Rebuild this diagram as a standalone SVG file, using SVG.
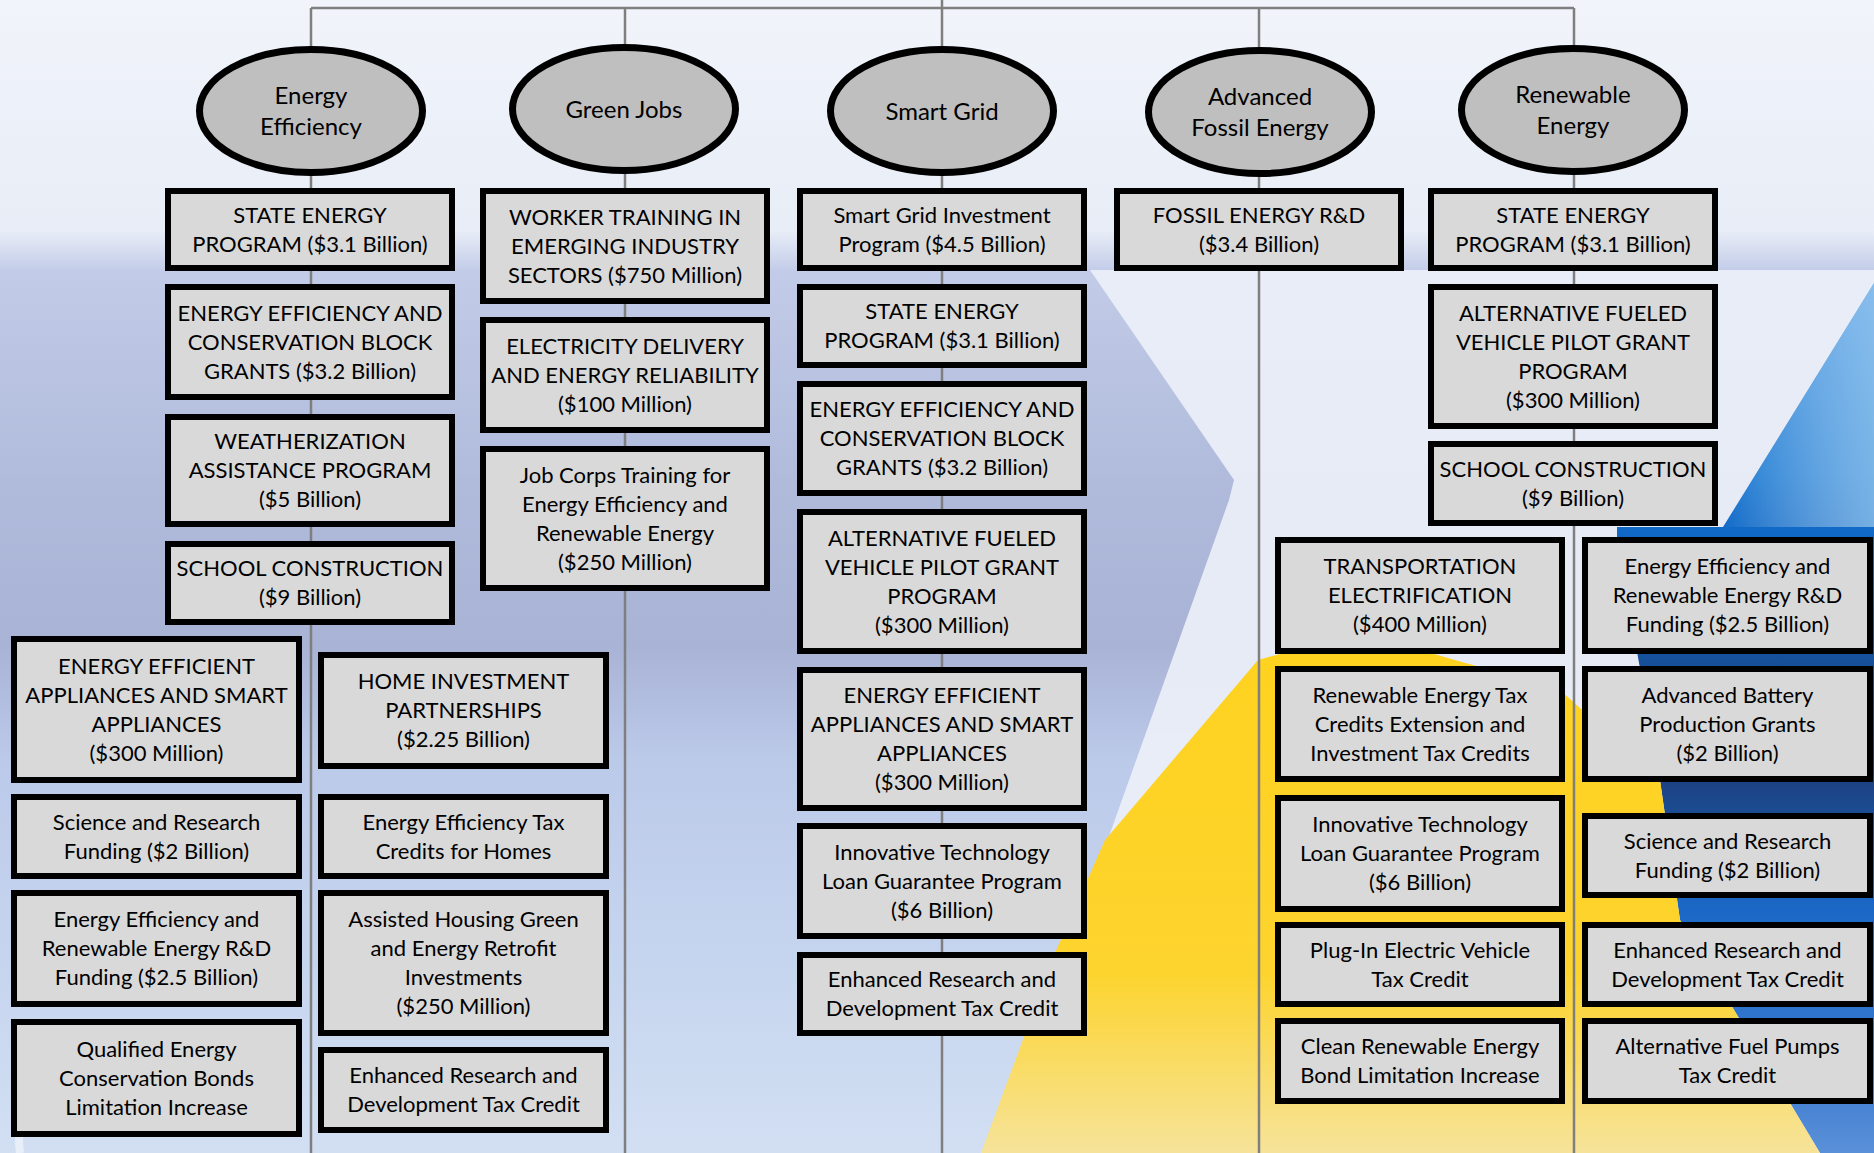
<svg xmlns="http://www.w3.org/2000/svg" width="1874" height="1153" viewBox="0 0 1874 1153">
<defs>
<linearGradient id="bgV" x1="0" y1="0" x2="0" y2="1">
<stop offset="0" stop-color="#f1f4fa"/>
<stop offset="0.2" stop-color="#e8edf7"/>
<stop offset="0.235" stop-color="#c2cce8"/>
<stop offset="0.42" stop-color="#b0badb"/>
<stop offset="0.56" stop-color="#a9b3d5"/>
<stop offset="0.66" stop-color="#bccaea"/>
<stop offset="0.85" stop-color="#c7d6ef"/>
<stop offset="1" stop-color="#d2dff3"/>
</linearGradient>
<linearGradient id="blueR" x1="0" y1="0" x2="0" y2="1">
<stop offset="0" stop-color="#3d8fe0"/>
<stop offset="0.22" stop-color="#1a78d2"/>
<stop offset="0.3" stop-color="#0f66c4"/>
<stop offset="0.55" stop-color="#1c3d78"/>
<stop offset="0.72" stop-color="#1a68c6"/>
<stop offset="0.9" stop-color="#3a7ad0"/>
<stop offset="1" stop-color="#5a90d8"/>
</linearGradient>
<linearGradient id="blueH" x1="0" y1="0" x2="1" y2="0">
<stop offset="0" stop-color="#ffffff" stop-opacity="0"/>
<stop offset="1" stop-color="#b8dcf5" stop-opacity="0.6"/>
</linearGradient>
<linearGradient id="yel" x1="0" y1="0" x2="0" y2="1">
<stop offset="0" stop-color="#ffd21f"/>
<stop offset="0.65" stop-color="#fdd42e"/>
<stop offset="1" stop-color="#f6e39a"/>
</linearGradient>
<style>
.ln{stroke:#7f7f7f;stroke-width:2.5;fill:none}
.bx{fill:#d9d9d9;stroke:#000;stroke-width:6}
.el{fill:#bfbfbf;stroke:#000;stroke-width:7}
.t{font-family:Lato,"Liberation Sans",sans-serif;font-size:22px;fill:#000;text-anchor:middle}
.te{font-family:Lato,"Liberation Sans",sans-serif;font-size:24px;fill:#000;text-anchor:middle}
</style>
</defs>

<g id="background">
<rect x="0" y="0" width="1874" height="1153" fill="url(#bgV)"/>
<polygon points="1090,270 1874,270 1874,1153 996,1153 1229,500 1234,480" fill="#edf1f8" opacity="0.9"/>
<polygon points="1874,283 1723,527 1617,527 1617,540 1660,780 1680,920 1820,1153 1874,1153" fill="url(#blueR)"/>
<polygon points="1874,283 1723,527 1874,527" fill="url(#blueH)"/>
<polygon points="981,1153 1055,953 1105,840 1258,660 1330,640 1420,650 1560,690 1660,780 1680,920 1820,1153" fill="url(#yel)"/>
<path d="M20,1153 A110,110 0 0 1 150,1030" stroke="#ffffff" stroke-width="8" fill="none" opacity="0.5"/>
</g>

<g id="connectors">
<path class="ln" d="M311,8 H1574 M942,0 V1153 M311,8 V1153 M625,8 V1153 M1259,8 V1153 M1574,8 V1153"/>
</g>

<g id="cat-energy-efficiency">
<ellipse class="el" cx="311" cy="111" rx="111.5" ry="61.5"/>
<text class="te" x="311" y="104"><tspan x="311">Energy</tspan><tspan x="311" dy="31">Efficiency</tspan></text>
</g>
<g id="cat-green-jobs">
<ellipse class="el" cx="624" cy="109" rx="111.5" ry="61.5"/>
<text class="te" x="624" y="117.5">Green Jobs</text>
</g>
<g id="cat-smart-grid">
<ellipse class="el" cx="942" cy="111" rx="111.5" ry="61.5"/>
<text class="te" x="942" y="119.5">Smart Grid</text>
</g>
<g id="cat-advanced-fossil">
<ellipse class="el" cx="1260" cy="112" rx="111.5" ry="61.5"/>
<text class="te" x="1260" y="105"><tspan x="1260">Advanced</tspan><tspan x="1260" dy="31">Fossil Energy</tspan></text>
</g>
<g id="cat-renewable">
<ellipse class="el" cx="1573" cy="110" rx="111.5" ry="61.5"/>
<text class="te" x="1573" y="103"><tspan x="1573">Renewable</tspan><tspan x="1573" dy="31">Energy</tspan></text>
</g>

<!-- Energy Efficiency column -->
<g id="ee-1"><rect class="bx" x="168" y="191" width="284" height="77"/>
<text class="t" y="222.5"><tspan x="310">STATE ENERGY</tspan><tspan x="310" dy="29">PROGRAM ($3.1 Billion)</tspan></text></g>
<g id="ee-2"><rect class="bx" x="168" y="287" width="284" height="110"/>
<text class="t" y="320.5"><tspan x="310">ENERGY EFFICIENCY AND</tspan><tspan x="310" dy="29">CONSERVATION BLOCK</tspan><tspan x="310" dy="29">GRANTS ($3.2 Billion)</tspan></text></g>
<g id="ee-3"><rect class="bx" x="168" y="417" width="284" height="107"/>
<text class="t" y="449"><tspan x="310">WEATHERIZATION</tspan><tspan x="310" dy="29">ASSISTANCE PROGRAM</tspan><tspan x="310" dy="29">($5 Billion)</tspan></text></g>
<g id="ee-4"><rect class="bx" x="168" y="544" width="284" height="78"/>
<text class="t" y="576"><tspan x="310">SCHOOL CONSTRUCTION</tspan><tspan x="310" dy="29">($9 Billion)</tspan></text></g>
<g id="ee-5"><rect class="bx" x="14" y="639" width="285" height="141"/>
<text class="t" y="673.5"><tspan x="156.5">ENERGY EFFICIENT</tspan><tspan x="156.5" dy="29">APPLIANCES AND SMART</tspan><tspan x="156.5" dy="29">APPLIANCES</tspan><tspan x="156.5" dy="29">($300 Million)</tspan></text></g>
<g id="ee-6"><rect class="bx" x="14" y="797" width="285" height="79"/>
<text class="t" y="829.5"><tspan x="156.5">Science and Research</tspan><tspan x="156.5" dy="29">Funding ($2 Billion)</tspan></text></g>
<g id="ee-7"><rect class="bx" x="14" y="893" width="285" height="111"/>
<text class="t" y="927"><tspan x="156.5">Energy Efficiency and</tspan><tspan x="156.5" dy="29">Renewable Energy R&amp;D</tspan><tspan x="156.5" dy="29">Funding ($2.5 Billion)</tspan></text></g>
<g id="ee-8"><rect class="bx" x="14" y="1022" width="285" height="112"/>
<text class="t" y="1056.5"><tspan x="156.5">Qualified Energy</tspan><tspan x="156.5" dy="29">Conservation Bonds</tspan><tspan x="156.5" dy="29">Limitation Increase</tspan></text></g>
<g id="ee-9"><rect class="bx" x="321" y="655" width="285" height="111"/>
<text class="t" y="689"><tspan x="463.5">HOME INVESTMENT</tspan><tspan x="463.5" dy="29">PARTNERSHIPS</tspan><tspan x="463.5" dy="29">($2.25 Billion)</tspan></text></g>
<g id="ee-10"><rect class="bx" x="321" y="797" width="285" height="79"/>
<text class="t" y="829.5"><tspan x="463.5">Energy Efficiency Tax</tspan><tspan x="463.5" dy="29">Credits for Homes</tspan></text></g>
<g id="ee-11"><rect class="bx" x="321" y="893" width="285" height="140"/>
<text class="t" y="927"><tspan x="463.5">Assisted Housing Green</tspan><tspan x="463.5" dy="29">and Energy Retrofit</tspan><tspan x="463.5" dy="29">Investments</tspan><tspan x="463.5" dy="29">($250 Million)</tspan></text></g>
<g id="ee-12"><rect class="bx" x="321" y="1050" width="285" height="80"/>
<text class="t" y="1083"><tspan x="463.5">Enhanced Research and</tspan><tspan x="463.5" dy="29">Development Tax Credit</tspan></text></g>

<!-- Green Jobs column -->
<g id="gj-1"><rect class="bx" x="483" y="191" width="284" height="110"/>
<text class="t" y="224.5"><tspan x="625">WORKER TRAINING IN</tspan><tspan x="625" dy="29">EMERGING INDUSTRY</tspan><tspan x="625" dy="29">SECTORS ($750 Million)</tspan></text></g>
<g id="gj-2"><rect class="bx" x="483" y="320" width="284" height="110"/>
<text class="t" y="353.5"><tspan x="625">ELECTRICITY DELIVERY</tspan><tspan x="625" dy="29">AND ENERGY RELIABILITY</tspan><tspan x="625" dy="29">($100 Million)</tspan></text></g>
<g id="gj-3"><rect class="bx" x="483" y="449" width="284" height="139"/>
<text class="t" y="482.5"><tspan x="625">Job Corps Training for</tspan><tspan x="625" dy="29">Energy Efficiency and</tspan><tspan x="625" dy="29">Renewable Energy</tspan><tspan x="625" dy="29">($250 Million)</tspan></text></g>

<!-- Smart Grid column -->
<g id="sg-1"><rect class="bx" x="800" y="191" width="284" height="77"/>
<text class="t" y="222.5"><tspan x="942">Smart Grid Investment</tspan><tspan x="942" dy="29">Program ($4.5 Billion)</tspan></text></g>
<g id="sg-2"><rect class="bx" x="800" y="287" width="284" height="78"/>
<text class="t" y="319"><tspan x="942">STATE ENERGY</tspan><tspan x="942" dy="29">PROGRAM ($3.1 Billion)</tspan></text></g>
<g id="sg-3"><rect class="bx" x="800" y="384" width="284" height="109"/>
<text class="t" y="417"><tspan x="942">ENERGY EFFICIENCY AND</tspan><tspan x="942" dy="29">CONSERVATION BLOCK</tspan><tspan x="942" dy="29">GRANTS ($3.2 Billion)</tspan></text></g>
<g id="sg-4"><rect class="bx" x="800" y="512" width="284" height="139"/>
<text class="t" y="545.5"><tspan x="942">ALTERNATIVE FUELED</tspan><tspan x="942" dy="29">VEHICLE PILOT GRANT</tspan><tspan x="942" dy="29">PROGRAM</tspan><tspan x="942" dy="29">($300 Million)</tspan></text></g>
<g id="sg-5"><rect class="bx" x="800" y="670" width="284" height="138"/>
<text class="t" y="703"><tspan x="942">ENERGY EFFICIENT</tspan><tspan x="942" dy="29">APPLIANCES AND SMART</tspan><tspan x="942" dy="29">APPLIANCES</tspan><tspan x="942" dy="29">($300 Million)</tspan></text></g>
<g id="sg-6"><rect class="bx" x="800" y="826" width="284" height="110"/>
<text class="t" y="859.5"><tspan x="942">Innovative Technology</tspan><tspan x="942" dy="29">Loan Guarantee Program</tspan><tspan x="942" dy="29">($6 Billion)</tspan></text></g>
<g id="sg-7"><rect class="bx" x="800" y="955" width="284" height="78"/>
<text class="t" y="987"><tspan x="942">Enhanced Research and</tspan><tspan x="942" dy="29">Development Tax Credit</tspan></text></g>

<!-- Advanced Fossil column -->
<g id="af-1"><rect class="bx" x="1117" y="191" width="284" height="77"/>
<text class="t" y="222.5"><tspan x="1259">FOSSIL ENERGY R&amp;D</tspan><tspan x="1259" dy="29">($3.4 Billion)</tspan></text></g>

<!-- Renewable Energy column -->
<g id="re-1"><rect class="bx" x="1431" y="191" width="284" height="77"/>
<text class="t" y="222.5"><tspan x="1573">STATE ENERGY</tspan><tspan x="1573" dy="29">PROGRAM ($3.1 Billion)</tspan></text></g>
<g id="re-2"><rect class="bx" x="1431" y="287" width="284" height="139"/>
<text class="t" y="320.5"><tspan x="1573">ALTERNATIVE FUELED</tspan><tspan x="1573" dy="29">VEHICLE PILOT GRANT</tspan><tspan x="1573" dy="29">PROGRAM</tspan><tspan x="1573" dy="29">($300 Million)</tspan></text></g>
<g id="re-3"><rect class="bx" x="1431" y="444" width="284" height="79"/>
<text class="t" y="476.5"><tspan x="1573">SCHOOL CONSTRUCTION</tspan><tspan x="1573" dy="29">($9 Billion)</tspan></text></g>
<g id="re-4"><rect class="bx" x="1278" y="540" width="284" height="111"/>
<text class="t" y="574"><tspan x="1420">TRANSPORTATION</tspan><tspan x="1420" dy="29">ELECTRIFICATION</tspan><tspan x="1420" dy="29">($400 Million)</tspan></text></g>
<g id="re-5"><rect class="bx" x="1278" y="669" width="284" height="110"/>
<text class="t" y="702.5"><tspan x="1420">Renewable Energy Tax</tspan><tspan x="1420" dy="29">Credits Extension and</tspan><tspan x="1420" dy="29">Investment Tax Credits</tspan></text></g>
<g id="re-6"><rect class="bx" x="1278" y="798" width="284" height="111"/>
<text class="t" y="832"><tspan x="1420">Innovative Technology</tspan><tspan x="1420" dy="29">Loan Guarantee Program</tspan><tspan x="1420" dy="29">($6 Billion)</tspan></text></g>
<g id="re-7"><rect class="bx" x="1278" y="925" width="284" height="79"/>
<text class="t" y="957.5"><tspan x="1420">Plug-In Electric Vehicle</tspan><tspan x="1420" dy="29">Tax Credit</tspan></text></g>
<g id="re-8"><rect class="bx" x="1278" y="1021" width="284" height="80"/>
<text class="t" y="1054"><tspan x="1420">Clean Renewable Energy</tspan><tspan x="1420" dy="29">Bond Limitation Increase</tspan></text></g>
<g id="re-9"><rect class="bx" x="1585" y="540" width="285" height="111"/>
<text class="t" y="574"><tspan x="1727.5">Energy Efficiency and</tspan><tspan x="1727.5" dy="29">Renewable Energy R&amp;D</tspan><tspan x="1727.5" dy="29">Funding ($2.5 Billion)</tspan></text></g>
<g id="re-10"><rect class="bx" x="1585" y="669" width="285" height="110"/>
<text class="t" y="702.5"><tspan x="1727.5">Advanced Battery</tspan><tspan x="1727.5" dy="29">Production Grants</tspan><tspan x="1727.5" dy="29">($2 Billion)</tspan></text></g>
<g id="re-11"><rect class="bx" x="1585" y="816" width="285" height="79"/>
<text class="t" y="848.5"><tspan x="1727.5">Science and Research</tspan><tspan x="1727.5" dy="29">Funding ($2 Billion)</tspan></text></g>
<g id="re-12"><rect class="bx" x="1585" y="925" width="285" height="79"/>
<text class="t" y="957.5"><tspan x="1727.5">Enhanced Research and</tspan><tspan x="1727.5" dy="29">Development Tax Credit</tspan></text></g>
<g id="re-13"><rect class="bx" x="1585" y="1021" width="285" height="80"/>
<text class="t" y="1054"><tspan x="1727.5">Alternative Fuel Pumps</tspan><tspan x="1727.5" dy="29">Tax Credit</tspan></text></g>
</svg>
